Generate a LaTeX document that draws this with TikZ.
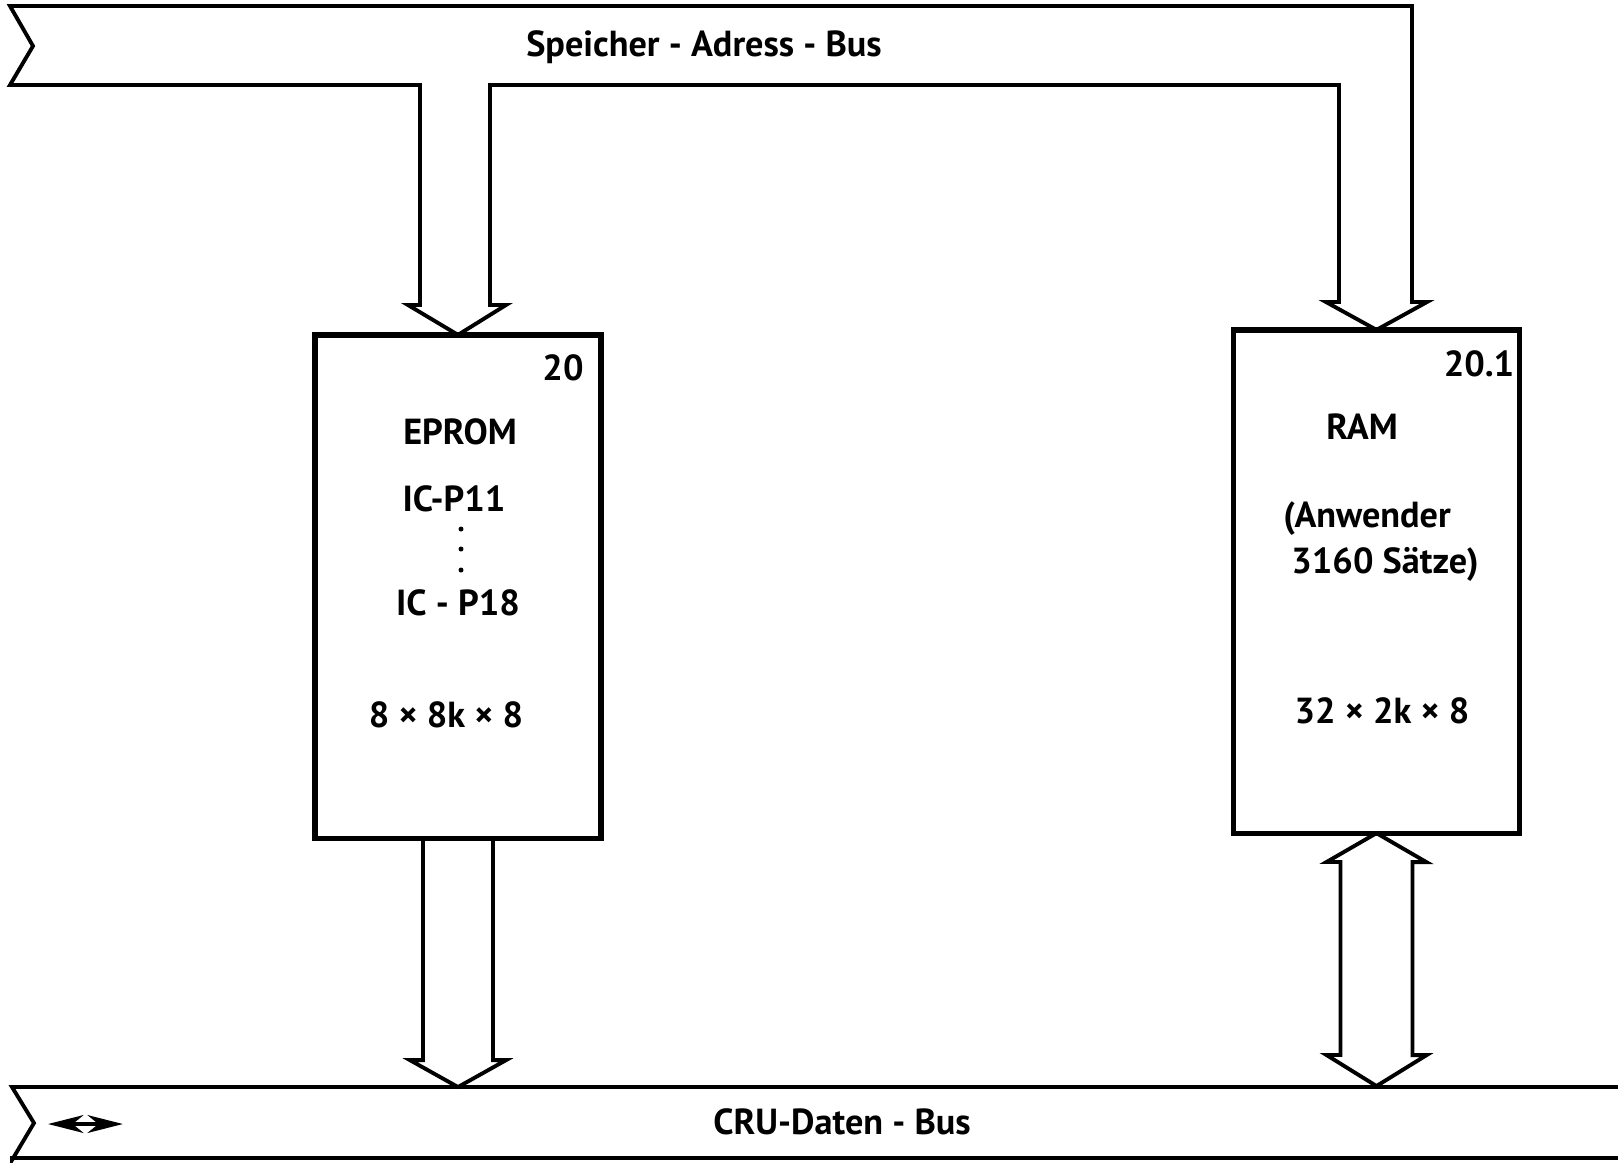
\documentclass[tikz,border=0pt]{standalone}
\usepackage{fontspec}
\setmainfont{PT Sans}
\usetikzlibrary{calc,arrows.meta}
\begin{document}
\begin{tikzpicture}[x=0.01cm,y=-0.01cm,
  bus/.style={line width=1.1pt,line join=miter},
  blk/.style={draw,line width=1.5pt,inner sep=0pt,outer sep=0pt,minimum width=2.86cm,minimum height=5.03cm},
  lbl/.style={font=\fontsize{10.3}{12}\selectfont\bfseries,inner sep=0pt}]
\useasboundingbox (0,0) rectangle (1618,1162);
% boxes
\node[blk] (eprom) at (458,586.5) {};
\node[blk] (ram) at (1376.5,581.5) {};
% top bus
\draw[bus] (10,6) -- (1412,6) -- (1412,302) -- (1427,302) -- (ram.north) -- (1326,302) -- (1339,302) -- (1339,85) -- (490,85) -- (490,305) -- (506,305) -- (eprom.north) -- (408,305) -- (420,305) -- (420,85) -- (10,85) -- (33,46) -- cycle;
% CRU bus
\coordinate (crur) at (1618,1087);
\coordinate (crurb) at (1618,1158);
\draw[bus] (crur) -- (12,1087) -- (34,1123) -- (12,1160) -- (12,1158) -- (crurb);
% EPROM down arrow
\coordinate (ceprom) at (458,1087);
\draw[bus] ($(eprom.south)+(-35,0)$) -- ++(0,222) -- ++(-13,0) -- (ceprom) -- ($(eprom.south)+(48,222)$) -- ++(-13,0) -- ($(eprom.south)+(35,0)$);
% RAM double arrow
\coordinate (cram) at (1376.5,1086);
\draw[bus] (ram.south) -- ++(50,29) -- ++(-14,0) -- ++(0,193) -- ++(14,0) -- (cram) -- ++(-50,-31) -- ++(14,0) -- ++(0,-193) -- ++(-14,0) -- cycle;
% small double arrow
\coordinate (sa) at (48,1124);
\coordinate (sb) at (123,1124);
\draw[line width=1.4pt,{Stealth[length=10pt,width=5pt,inset=3pt]}-{Stealth[length=10pt,width=5pt,inset=3pt]}] (sa) -- (sb);
% labels
\node[lbl] (t1) at (704,47) {Speicher - Adress - Bus};
\node[lbl] (t2) at (842,1122) {CRU-Daten - Bus};
\node[lbl] (n20) at (563,368) {20};
\node[lbl] (ep) at (460,432) {EPROM};
\node[lbl] (p11) at (454,499) {IC-P11};
\fill (461,529) circle (2.5) (461,549) circle (2.5) (461,570) circle (2.5);
\node[lbl] (p18) at (458,603) {IC - P18};
\node[lbl] (e8) at (446,715) {8 × 8k × 8};
\node[lbl] (n201) at (1479,364) {20.1};
\node[lbl] (rm) at (1362,427) {RAM};
\node[lbl] (an) at (1367,519) {(Anwender};
\node[lbl] (sz) at (1385,564) {3160 Sätze)};
\node[lbl] (r8) at (1382,711) {32 × 2k × 8};
\end{tikzpicture}
\end{document}
